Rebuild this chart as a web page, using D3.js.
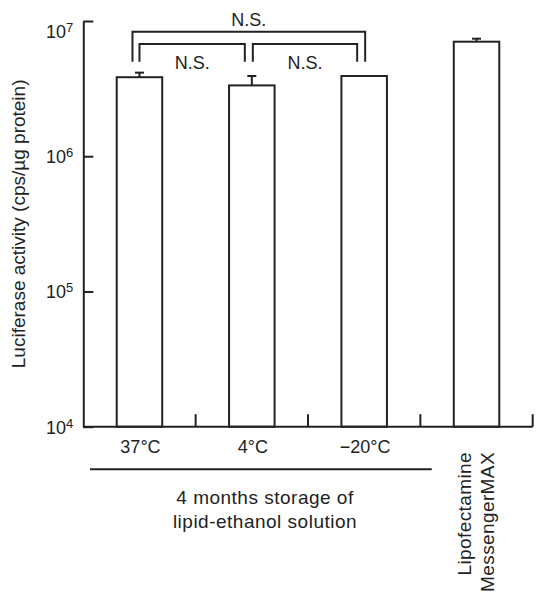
<!DOCTYPE html>
<html>
<head>
<meta charset="utf-8">
<script src="https://cdn.jsdelivr.net/npm/d3@7"></script>
<style>
  body { margin: 0; background: #fff; }
  svg { display: block; }
  text { font-family: "Liberation Sans", Arial, Helvetica, sans-serif; fill: #222; }
</style>
</head>
<body>
<script>
"use strict";
(function(){
    // chart values
    const categories = ["37°C", "4°C", "\u221220°C", "Lipofectamine MessengerMAX"];
    const means = [3.84e6, 3.34e6, 3.92e6, 7.03e6];
    const errors = [0.31e6, 0.58e6, 0, 0.37e6];
    const yTicks = [1e4, 1e5, 1e6, 1e7];
    const yTickExp = ["4", "5", "6", "7"];
    // significance brackets: [from category, to category, label, level]
    const brackets = [
        [0, 2, "N.S.", 1],
        [0, 1, "N.S.", 0],
        [1, 2, "N.S.", 0]
    ];
    const groupLabel = ["4 months storage of", "lipid-ethanol solution"];
    const yTitle = "Luciferase activity (cps/\u00b5g protein)";

    const measurements = {
        width: 546,
        height: 598,
        axisLeft: 83.3,
        axisRight: 532.7,
        top: 21,
        bottom: 426.7
    }
    const ink = "#222";

    const svgContainer = d3.select("body").append("svg")
        .attr("width", measurements.width)
        .attr("height", measurements.height);

    const scaleX = d3.scaleBand()
        .domain(categories)
        .range([measurements.axisLeft, measurements.axisRight])
        .paddingInner(0.595)
        .paddingOuter(0.2975);

    const scaleY = d3.scaleLog()
        .domain([1e4, 1e7])
        .range([measurements.bottom, measurements.top]);

    const center = (i) => scaleX(categories[i]) + scaleX.bandwidth() / 2;

    // y axis, ticks pointing inward
    const yAxis = d3.axisRight(scaleY)
        .tickValues(yTicks)
        .tickSize(10)
        .tickSizeOuter(0)
        .tickFormat("");
    const gy = svgContainer.append("g")
        .attr("transform", `translate(${measurements.axisLeft},0)`)
        .call(yAxis);
    gy.select(".domain").attr("stroke", ink).attr("stroke-width", 2);
    gy.selectAll(".tick line").attr("stroke", ink).attr("stroke-width", 2);

    // y tick labels 10^n
    const yLab = svgContainer.selectAll(".ylab")
        .data(yTicks)
        .enter()
        .append("text")
        .attr("class", "ylab")
        .attr("x", measurements.axisLeft - 10)
        .attr("y", (d, i) => scaleY(d) + (i === yTicks.length - 1 ? 16.5 : 7))
        .attr("text-anchor", "end")
        .style("font-size", "18px");
    yLab.append("tspan").text("10");
    yLab.append("tspan")
        .attr("dy", -6)
        .style("font-size", "13px")
        .text((d, i) => yTickExp[i]);

    // y title
    svgContainer.append("text")
        .attr("transform", `translate(25,${(measurements.top + measurements.bottom) / 2})rotate(-90)`)
        .attr("text-anchor", "middle")
        .style("font-size", "19px")
        .text(yTitle);

    // bars
    svgContainer.selectAll(".bar")
        .data(means)
        .enter()
        .append("rect")
        .attr("class", "bar")
        .attr("x", (d, i) => scaleX(categories[i]))
        .attr("y", (d) => scaleY(d))
        .attr("width", scaleX.bandwidth())
        .attr("height", (d) => scaleY(1e4) - scaleY(d))
        .attr("fill", "#fff")
        .attr("stroke", ink)
        .attr("stroke-width", 2);

    // error bars
    const errG = svgContainer.selectAll(".err")
        .data(means.map((m, i) => ({ m: m, e: errors[i], i: i })).filter((d) => d.e > 0))
        .enter()
        .append("g")
        .attr("class", "err");
    errG.append("line")
        .attr("x1", (d) => center(d.i))
        .attr("x2", (d) => center(d.i))
        .attr("y1", (d) => scaleY(d.m))
        .attr("y2", (d) => scaleY(d.m + d.e))
        .attr("stroke", ink)
        .attr("stroke-width", 2);
    errG.append("line")
        .attr("x1", (d) => center(d.i) - 4.5)
        .attr("x2", (d) => center(d.i) + 4.5)
        .attr("y1", (d) => scaleY(d.m + d.e))
        .attr("y2", (d) => scaleY(d.m + d.e))
        .attr("stroke", ink)
        .attr("stroke-width", 2);

    // x baseline with short ticks at the band edges
    svgContainer.append("line")
        .attr("x1", measurements.axisLeft)
        .attr("x2", measurements.axisRight)
        .attr("y1", measurements.bottom)
        .attr("y2", measurements.bottom)
        .attr("stroke", ink)
        .attr("stroke-width", 2);
    svgContainer.selectAll(".xtick")
        .data(categories)
        .enter()
        .append("line")
        .attr("class", "xtick")
        .attr("x1", (d) => scaleX(d) + scaleX.step() * (1 - 0.2975))
        .attr("x2", (d) => scaleX(d) + scaleX.step() * (1 - 0.2975))
        .attr("y1", measurements.bottom)
        .attr("y2", measurements.bottom - 12.5)
        .attr("stroke", ink)
        .attr("stroke-width", 2);

    // x labels for the storage groups
    svgContainer.selectAll(".xlab")
        .data(categories.slice(0, 3))
        .enter()
        .append("text")
        .attr("class", "xlab")
        .attr("x", (d, i) => center(i) + 1)
        .attr("y", 452.5)
        .attr("text-anchor", "middle")
        .style("font-size", "18px")
        .text((d) => d);

    // rotated label for the last bar
    const lipo = svgContainer.append("text")
        .attr("transform", `translate(${center(3) - 6},452)rotate(-90)`)
        .attr("text-anchor", "end")
        .style("font-size", "19px")
        .style("letter-spacing", "0.4px");
    lipo.selectAll("tspan")
        .data(categories[3].split(" "))
        .enter()
        .append("tspan")
        .attr("x", 0)
        .attr("dy", (d, i) => i === 0 ? 0 : 23)
        .text((d) => d);

    // group line and caption
    svgContainer.append("line")
        .attr("x1", 90)
        .attr("x2", 431.7)
        .attr("y1", 469.3)
        .attr("y2", 469.3)
        .attr("stroke", ink)
        .attr("stroke-width", 2);
    svgContainer.append("text")
        .attr("text-anchor", "middle")
        .style("font-size", "19px")
        .style("letter-spacing", "0.5px")
        .selectAll("tspan")
        .data(groupLabel)
        .enter()
        .append("tspan")
        .attr("x", 265)
        .attr("y", (d, i) => 504 + i * 23.5)
        .text((d) => d);

    // significance brackets
    brackets.forEach((b) => {
        const outer = b[3] === 1;
        const x1 = center(b[0]) + (outer ? -7 : (b[0] === 0 ? 0 : 1));
        const x2 = center(b[1]) + (outer ? 1 : -7);
        const yTop = outer ? 31.7 : 44;
        const yLeg = 61.7;
        svgContainer.append("path")
            .attr("d", `M${x1},${yLeg}V${yTop}H${x2}V${yLeg}`)
            .attr("fill", "none")
            .attr("stroke", ink)
            .attr("stroke-width", 2);
        svgContainer.append("text")
            .attr("x", (x1 + x2) / 2)
            .attr("y", outer ? 26 : 69.3)
            .attr("text-anchor", "middle")
            .style("font-size", "18px")
            .text(b[2]);
    });
})()
</script>
</body>
</html>
